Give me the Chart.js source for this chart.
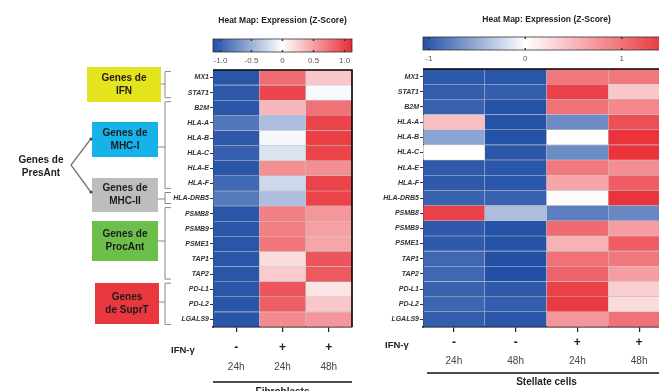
<!DOCTYPE html>
<html><head><meta charset="utf-8">
<script src="https://cdn.jsdelivr.net/npm/chart.js@4.4.1/dist/chart.umd.min.js"></script>
<style>
html,body{margin:0;padding:0;background:#fff;overflow:hidden;}
#wrap{position:relative;width:659px;height:391px;overflow:hidden;background:#fff;}
.box{position:absolute;top:0;height:391px;}
</style></head><body>
<div id="wrap">
<div class="box" style="left:0;width:380px"><canvas id="c1" width="380" height="391"></canvas></div>
<div class="box" style="left:380px;width:300px"><canvas id="c2" width="300" height="391"></canvas></div>
</div>
<script>
// ---------------- DATA ----------------
const genes = ['MX1','STAT1','B2M','HLA-A','HLA-B','HLA-C','HLA-E','HLA-F','HLA-DRB5','PSMB8','PSMB9','PSME1','TAP1','TAP2','PD-L1','PD-L2','LGALS9'];

// Fibroblasts (Z-score)
const fibroIFN = ['-','+','+'];
const fibroTime = ['24h','24h','48h'];
const fibro24hCtrl = [-1.08,-1.06,-1.08,-0.88,-1.06,-1.02,-1.08,-0.96,-0.86,-1.08,-1.08,-1.08,-1.08,-1.08,-1.08,-1.08,-1.08];
const fibro24hIFN  = [0.78,0.98,0.38,-0.42,-0.05,-0.18,0.60,-0.25,-0.42,0.68,0.68,0.72,0.18,0.28,0.90,0.85,0.62];
const fibro48hIFN  = [0.30,-0.04,0.75,1.00,1.02,1.00,0.60,1.00,1.00,0.55,0.50,0.48,0.90,0.88,0.15,0.30,0.55];
const fibroScaleTicks = [-1.0,-0.5,0,0.5,1.0];
const fibroScaleLabels = ['-1.0','-0.5','0','0.5','1.0'];

// Stellate cells (Z-score)
const stelIFN = ['-','-','+','+'];
const stelTime = ['24h','48h','24h','48h'];
const stel24hCtrl = [-1.00,-0.98,-0.95,0.45,-0.55,0.00,-1.00,-1.00,-0.95,1.35,-1.00,-1.00,-0.92,-0.92,-0.95,-0.93,-0.98];
const stel48hCtrl = [-1.02,-0.98,-1.05,-1.05,-1.05,-1.02,-1.02,-1.02,-0.95,-0.40,-1.05,-1.05,-1.08,-1.08,-1.00,-0.98,-1.02];
const stel24hIFN  = [0.95,1.35,1.00,-0.70,0.00,-0.70,0.95,0.65,0.03,-0.78,1.05,0.55,1.00,1.10,1.35,1.40,0.75];
const stel48hIFN  = [0.95,0.40,0.85,1.25,1.45,1.45,0.80,1.15,1.45,-0.72,0.70,1.15,0.95,0.70,0.35,0.25,1.00];
const stelScaleTicks = [-1,0,1];
const stelScaleLabels = ['-1','0','1'];

// Gene groups (row index ranges)
const groupNames = [['Genes de','IFN'],['Genes de','MHC-I'],['Genes de','MHC-II'],['Genes de','ProcAnt'],['Genes','de SuprT']];
const groupFrom = [0,2,8,9,14];
const groupTo   = [1,7,8,13,16];
const groupColors = ['#e4e41e','#17b2e8','#bdbdbd','#6bbf4a','#e8383e'];

// ---------------- STYLE / HELPERS ----------------
const FONT = '"Liberation Sans", Arial, sans-serif';
const BLUE = [34,80,166], RED = [233,44,52], WHITE=[255,255,255];
function mix(a,b,t){return a.map((v,i)=>Math.round(v+(b[i]-v)*t));}
function zColor(v,min,max){
  let c;
  if(v<0){c=mix(WHITE,BLUE,Math.min(1,v/min));}
  else{c=mix(WHITE,RED,Math.min(1,v/max));}
  return 'rgb('+c.join(',')+')';
}

function makeChart(canvas, cols, min, max, yWidth, pad, deco){
  const datasets = cols.map(vals=>({
    data: genes.map(()=>1),
    backgroundColor: vals.map(v=>zColor(v,min,max)),
    borderColor: 'rgba(40,40,60,0.18)',
    borderWidth: 0.6,
    borderSkipped: false,
    barPercentage: 1,
    categoryPercentage: 1
  }));
  return new Chart(canvas, {
    type:'bar',
    data:{labels:genes, datasets},
    options:{
      indexAxis:'y',
      responsive:false,
      animation:false,
      layout:{padding:pad},
      plugins:{legend:{display:false},tooltip:{enabled:false}},
      scales:{
        x:{type:'linear',stacked:true,min:0,max:cols.length,
           afterBuildTicks:s=>{s.ticks=cols.map((_,i)=>({value:i+0.5}));},
           afterFit:s=>{s.height=6;},
           ticks:{callback:()=>'' ,autoSkip:false},
           grid:{drawOnChartArea:false,drawTicks:true,tickLength:5,color:'#222',lineWidth:1.2},
           border:{display:true,color:'#000',width:1.6}},
        y:{stacked:true,
           afterFit:s=>{s.width=yWidth;},
           ticks:{autoSkip:false,padding:1,color:'#333',font:{family:FONT,size:7,style:'italic',weight:'bold'}},
           grid:{drawOnChartArea:false,drawTicks:true,tickLength:3,color:'#333',offset:false},
           border:{display:true,color:'#333',width:1}}
      }
    },
    plugins:[{id:'deco',afterDraw:c=>deco(c)}]
  });
}

function drawCommon(chart, o){
  const ctx=chart.ctx, a=chart.chartArea, xs=chart.scales.x;
  ctx.save();
  // frame
  ctx.strokeStyle='#000';ctx.lineWidth=1.6;
  ctx.beginPath();ctx.moveTo(a.left,a.top);ctx.lineTo(a.right,a.top);ctx.lineTo(a.right,a.bottom);ctx.stroke();
  // title
  ctx.fillStyle='#222';ctx.textAlign='center';ctx.textBaseline='middle';
  ctx.font='bold 8.5px '+FONT;
  ctx.fillText('Heat Map: Expression (Z-Score)',(a.left+a.right)/2,o.titleY);
  // colorbar
  const bx0=a.left,bx1=a.right,by=o.barY,bh=13;
  const vx=v=>bx0+(v-o.min)/(o.max-o.min)*(bx1-bx0);
  const g=ctx.createLinearGradient(bx0,0,bx1,0);
  const z=(0-o.min)/(o.max-o.min);
  g.addColorStop(0,zColor(o.min,o.min,o.max));
  g.addColorStop(z,'rgb(255,255,255)');
  g.addColorStop(1,zColor(o.max,o.min,o.max));
  ctx.fillStyle=g;ctx.fillRect(bx0,by,bx1-bx0,bh);
  ctx.strokeStyle='#333';ctx.lineWidth=0.8;ctx.strokeRect(bx0,by,bx1-bx0,bh);
  ctx.font='8px '+FONT;ctx.fillStyle='#555';
  o.ticks.forEach((t,i)=>{
    const x=vx(t);
    ctx.fillStyle='#333';ctx.fillRect(x-0.7,by,1.4,2);ctx.fillRect(x-0.7,by+bh-2,1.4,2);
    ctx.fillStyle='#555';ctx.fillText(o.labels[i],x,by+bh+9);
  });
  // column annotations
  ctx.fillStyle='#222';
  o.ifn.forEach((s,i)=>{
    const x=xs.getPixelForValue(i+0.5);
    ctx.font='bold 12px '+FONT;ctx.fillText(s,x,o.signY);
    ctx.font='10px '+FONT;ctx.fillStyle='#444';ctx.fillText(o.time[i],x,o.timeY);ctx.fillStyle='#222';
  });
  ctx.font='bold 9.5px '+FONT;ctx.textAlign='left';
  ctx.fillText('IFN-\u03b3',o.ifnX,o.signY+2);
  // group line
  ctx.strokeStyle='#111';ctx.lineWidth=1.5;
  ctx.beginPath();ctx.moveTo(a.left+o.lineInset,o.lineY);ctx.lineTo(a.right,o.lineY);ctx.stroke();
  ctx.textAlign='center';ctx.textBaseline=o.nameBase;ctx.font='bold 10px '+FONT;ctx.fillStyle='#222';
  ctx.fillText(o.name,(a.left+a.right)/2,o.nameY);
  ctx.restore();
}

const boxRects=[[87,67,74,35],[92,122,66,35],[92,178,66,34],[92,221,66,40],[95,283,64,41]];
const connY=[84,147,199,241,302];

function drawLeftDeco(chart){
  drawCommon(chart,{titleY:21,barY:39,min:-1.12,max:1.12,ticks:fibroScaleTicks,labels:fibroScaleLabels,
    ifn:fibroIFN,time:fibroTime,signY:348,timeY:367,ifnX:171,lineY:382,lineInset:0,name:'Fibroblasts',nameY:387,nameBase:'top'});
  const ctx=chart.ctx, ys=chart.scales.y;
  ctx.save();
  // boxes
  groupNames.forEach((n,i)=>{
    const [x,y,w,h]=boxRects[i];
    ctx.fillStyle=groupColors[i];ctx.fillRect(x,y,w,h);
    ctx.fillStyle='#1c1c1c';ctx.font='bold 10px '+FONT;ctx.textAlign='center';ctx.textBaseline='middle';
    ctx.fillText(n[0],x+w/2,y+h/2-6.5);ctx.fillText(n[1],x+w/2,y+h/2+6.5);
    // bracket
    const bx=165, t=ys.getPixelForValue(groupFrom[i])-6, b=ys.getPixelForValue(groupTo[i])+5;
    ctx.strokeStyle='#888';ctx.lineWidth=1;
    ctx.beginPath();
    ctx.moveTo(bx+6,t);ctx.lineTo(bx,t);ctx.lineTo(bx,b);ctx.lineTo(bx+6,b);
    ctx.moveTo(x+w,connY[i]);ctx.lineTo(bx,connY[i]);
    ctx.stroke();
  });
  // PresAnt
  ctx.fillStyle='#1c1c1c';ctx.font='bold 10px '+FONT;ctx.textAlign='center';ctx.textBaseline='middle';
  ctx.fillText('Genes de',41,160);ctx.fillText('PresAnt',41,173);
  ctx.strokeStyle='#777';ctx.lineWidth=1.3;
  ctx.beginPath();ctx.moveTo(90,140);ctx.lineTo(71,165);ctx.lineTo(90,191);ctx.stroke();
  ctx.fillStyle='#444';
  [[91,139],[91,192]].forEach(p=>{ctx.beginPath();ctx.arc(p[0],p[1],1.6,0,Math.PI*2);ctx.fill();});
  ctx.restore();
}
function drawRightDeco(chart){
  drawCommon(chart,{titleY:20,barY:37,min:-1.06,max:1.5,ticks:stelScaleTicks,labels:stelScaleLabels,
    ifn:stelIFN,time:stelTime,signY:343,timeY:361,ifnX:5,lineY:373,lineInset:4,name:'Stellate cells',nameY:382,nameBase:'middle'});
}

makeChart(document.getElementById('c1'),[fibro24hCtrl,fibro24hIFN,fibro48hIFN],-1.12,1.12,213,{left:0,right:28,top:70,bottom:58},drawLeftDeco);
makeChart(document.getElementById('c2'),[stel24hCtrl,stel48hCtrl,stel24hIFN,stel48hIFN],-1.06,1.5,43,{left:0,right:10,top:69,bottom:58},drawRightDeco);
</script>
</body></html>
